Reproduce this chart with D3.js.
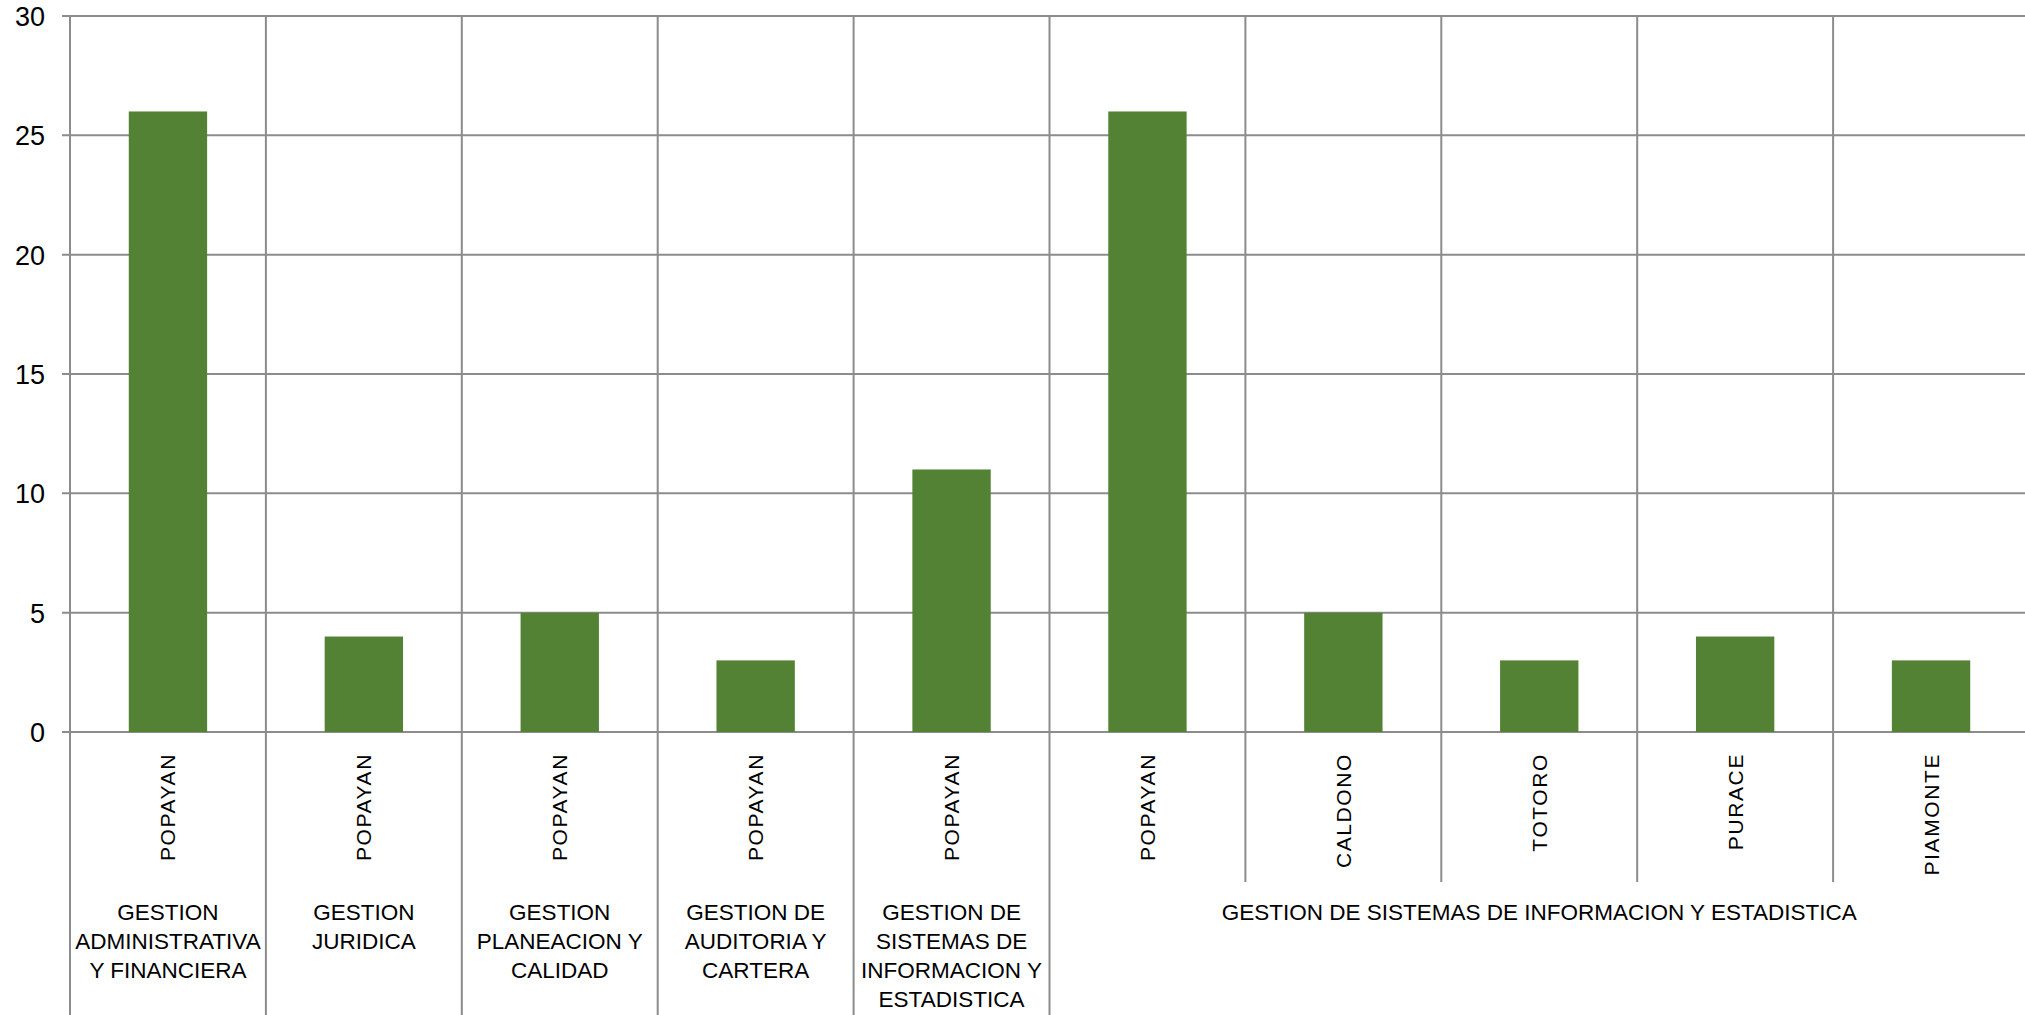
<!DOCTYPE html>
<html>
<head>
<meta charset="utf-8">
<script src="https://cdn.jsdelivr.net/npm/d3@7"></script>
<style>
  html, body { margin: 0; padding: 0; background: #fff; overflow: hidden; }
  svg { display: block; }
</style>
</head>
<body>
<svg id="chart" width="2025" height="1015"></svg>
<script>
// ---- data ----
const cities = ["POPAYAN", "POPAYAN", "POPAYAN", "POPAYAN", "POPAYAN",
                "POPAYAN", "CALDONO", "TOTORO", "PURACE", "PIAMONTE"];
const values = [26, 4, 5, 3, 11, 26, 5, 3, 4, 3];
const groupNames = [
  "GESTION ADMINISTRATIVA Y FINANCIERA",
  "GESTION JURIDICA",
  "GESTION PLANEACION Y CALIDAD",
  "GESTION DE AUDITORIA Y CARTERA",
  "GESTION DE SISTEMAS DE INFORMACION Y ESTADISTICA",
  "GESTION DE SISTEMAS DE INFORMACION Y ESTADISTICA"
];
const groupLines = [
  ["GESTION", "ADMINISTRATIVA", "Y FINANCIERA"],
  ["GESTION", "JURIDICA"],
  ["GESTION", "PLANEACION Y", "CALIDAD"],
  ["GESTION DE", "AUDITORIA Y", "CARTERA"],
  ["GESTION DE", "SISTEMAS DE", "INFORMACION Y", "ESTADISTICA"],
  ["GESTION DE SISTEMAS DE INFORMACION Y ESTADISTICA"]
];
const groupSizes = [1, 1, 1, 1, 1, 5];
const yTicks = [0, 5, 10, 15, 20, 25, 30];

// ---- layout ----
const plotLeft = 70, plotRight = 2029, plotTop = 16, plotBottom = 732;
const cityLabelBottom = 882, H = 1015;
const gridColor = "#8c8c8c";
const barColor = "#548235";
const font = "'Liberation Sans', Arial, sans-serif";

const svg = d3.select("#chart");
const idx = d3.range(values.length);
const x = d3.scaleBand().domain(idx).range([plotLeft, plotRight]).paddingInner(0).paddingOuter(0);
const y = d3.scaleLinear().domain([0, 30]).range([plotBottom, plotTop]);

// horizontal gridlines
svg.append("g").selectAll("line").data(yTicks).join("line")
  .attr("x1", plotLeft - 8).attr("x2", plotRight)
  .attr("y1", d => y(d)).attr("y2", d => y(d))
  .attr("stroke", gridColor).attr("stroke-width", 2);

// group boundaries
const groupStarts = [];
let acc = 0;
groupSizes.forEach(s => { groupStarts.push(acc); acc += s; });
const groupBoundaryIdx = new Set(groupStarts);

// vertical lines at category boundaries
const boundaries = d3.range(values.length + 1);
svg.append("g").selectAll("line").data(boundaries).join("line")
  .attr("x1", d => d < values.length ? x(d) : plotRight)
  .attr("x2", d => d < values.length ? x(d) : plotRight)
  .attr("y1", plotTop)
  .attr("y2", d => (groupBoundaryIdx.has(d) || d === values.length) ? H : cityLabelBottom)
  .attr("stroke", gridColor).attr("stroke-width", 2);

// bars
const barW = x.bandwidth() * 0.4;
svg.append("g").selectAll("rect").data(idx).join("rect")
  .attr("x", i => x(i) + (x.bandwidth() - barW) / 2)
  .attr("width", barW)
  .attr("y", i => y(values[i]))
  .attr("height", i => y(0) - y(values[i]))
  .attr("fill", barColor);

// y axis labels
const yAxis = d3.axisLeft(y).tickValues(yTicks).tickSize(0).tickPadding(0);
const ya = svg.append("g").attr("transform", `translate(${plotLeft - 25},0)`).call(yAxis);
ya.select(".domain").remove();
ya.selectAll("text").attr("font-family", font).attr("font-size", 27).attr("fill", "#000")
  .attr("dy", "0.35em");

// city labels (rotated)
svg.append("g").selectAll("text").data(idx).join("text")
  .attr("transform", i => `translate(${x(i) + x.bandwidth() / 2 + 7.5},753) rotate(-90)`)
  .attr("text-anchor", "end")
  .attr("font-family", font).attr("font-size", 21).attr("letter-spacing", 1.6)
  .attr("fill", "#000")
  .text(i => cities[i]);

// group labels
const gl = svg.append("g");
groupLines.forEach((lines, g) => {
  const s = groupStarts[g], n = groupSizes[g];
  const cx = x(s) + n * x.bandwidth() / 2;
  const t = gl.append("text")
    .attr("text-anchor", "middle")
    .attr("font-family", font).attr("font-size", 22.5).attr("fill", "#000")
    .attr("data-group", groupNames[g]);
  t.selectAll("tspan").data(lines).join("tspan")
    .attr("x", cx).attr("y", (d, i) => 920 + i * 29)
    .text(d => d);
});
</script>
</body>
</html>
